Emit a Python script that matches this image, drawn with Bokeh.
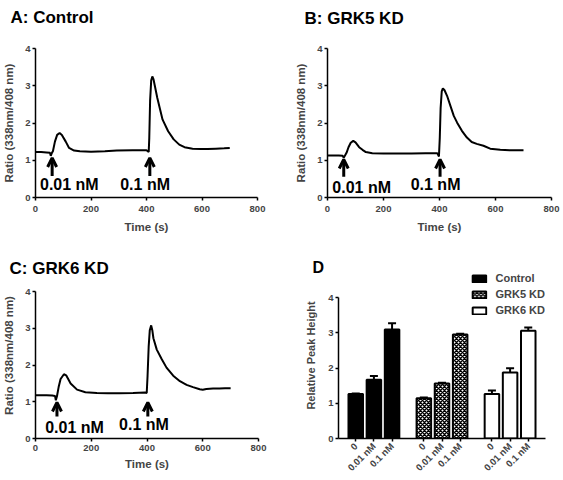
from bokeh.plotting import figure
from bokeh.models import (Range1d, FixedTicker, Arrow, OpenHead, Whisker, TeeHead,
                          ColumnDataSource, Label)
from bokeh.layouts import column, row
from bokeh.core.properties import value
from bokeh.embed import file_html
from bokeh.resources import INLINE

FONT = "Liberation Sans"

# ---------------- data ----------------
x_ticks = [0, 200, 400, 600, 800]
y_ticks = [0, 1, 2, 3, 4]

time_A = [0, 20, 40, 52, 55, 58, 63, 70, 78, 87, 95, 109, 121, 139, 160, 200, 250, 293, 350, 400,
          408, 410, 413, 417, 421, 425, 430, 439, 449, 458, 478, 498, 518, 537, 566, 596, 620, 650, 680, 700]
ratio_A = [1.22, 1.22, 1.21, 1.2, 1.12, 1.18, 1.25, 1.5, 1.68, 1.73, 1.68, 1.5, 1.33, 1.26, 1.24, 1.23, 1.24, 1.26, 1.27, 1.27,
           1.22, 1.6, 2.6, 3.15, 3.25, 3.18, 3.0, 2.67, 2.36, 2.09, 1.78, 1.56, 1.42, 1.35, 1.31, 1.3, 1.3, 1.31, 1.32, 1.33]

time_B = [0, 20, 40, 54, 58, 62, 68, 75, 83, 92, 100, 113, 125, 137, 160, 200, 250, 300, 350, 392,
          398, 401, 404, 408, 412, 418, 427, 439, 451, 463, 480, 498, 515, 533, 557, 581, 617, 650, 680, 700]
ratio_B = [1.13, 1.13, 1.13, 1.12, 1.07, 1.12, 1.2, 1.35, 1.47, 1.52, 1.48, 1.35, 1.28, 1.22, 1.19, 1.18, 1.18, 1.18, 1.19, 1.19,
           1.1, 1.6, 2.4, 2.85, 2.93, 2.88, 2.73, 2.46, 2.19, 2.01, 1.79, 1.61, 1.49, 1.44, 1.39, 1.31, 1.28, 1.27, 1.27, 1.27]

time_C = [0, 20, 40, 60, 70, 73, 77, 83, 90, 102, 110, 126, 149, 179, 220, 260, 300, 350, 393, 399,
          402, 406, 410, 415, 419, 423, 435, 453, 470, 494, 518, 542, 565, 589, 600, 613, 637, 660, 680, 700]
ratio_C = [1.18, 1.18, 1.18, 1.17, 1.16, 1.04, 1.15, 1.4, 1.62, 1.75, 1.72, 1.5, 1.33, 1.26, 1.24, 1.23, 1.23, 1.24, 1.25, 1.24,
           1.7, 2.5, 2.95, 3.08, 2.95, 2.73, 2.42, 2.16, 1.93, 1.71, 1.56, 1.46, 1.4, 1.34, 1.33, 1.35, 1.36, 1.36, 1.37, 1.37]

dose_text = ["0.01 nM", "0.1 nM"]
arrow_t_A = [60, 412]
arrow_t_B = [58, 402]
arrow_t_C = [77, 403]
arrow_tip = [1.06, 1.02, 0.98]
arrow_base = [0.58, 0.56, 0.6]
label_t_A = [122, 395]
label_t_B = [122, 386]
label_t_C = [140, 389]
label_y_A = [0.36, 0.36]
label_y_B = [0.28, 0.36]
label_y_C = [0.31, 0.37]

panel_titles = ["A: Control", "B: GRK5 KD", "C: GRK6 KD", "D"]

groups = ["Control", "GRK5 KD", "GRK6 KD"]
doses = ["0", "0.01 nM", "0.1 nM"]
peak_control = [1.26, 1.67, 3.09]
err_control = [0.02, 0.1, 0.18]
peak_grk5 = [1.14, 1.56, 2.95]
err_grk5 = [0.02, 0.02, 0.02]
peak_grk6 = [1.26, 1.87, 3.06]
err_grk6 = [0.1, 0.12, 0.09]


def style(p, tick_size="9.5px", label_size="11.5px"):
    for ax in p.axis:
        ax.axis_line_width = 1.5
        ax.major_tick_line_width = 1.5
        ax.major_tick_out = 3
        ax.major_tick_in = 0
        ax.minor_tick_line_color = None
        ax.major_label_text_font = FONT
        ax.major_label_text_font_style = "bold"
        ax.major_label_text_font_size = tick_size
        ax.axis_label_text_font = FONT
        ax.axis_label_text_font_style = "bold"
        ax.axis_label_text_font_size = label_size
    p.yaxis.major_label_standoff = 2
    p.yaxis.axis_label_standoff = 7
    p.yaxis.bounds = (y_ticks[0], y_ticks[-1])
    p.grid.visible = False
    p.outline_line_color = None


def add_title(p, text, dx, dy, size="17px"):
    # panel heading, placed in the space above the plot frame
    p.add_layout(Label(x=dx, y=dy, x_units="screen", y_units="screen", text=text,
                       text_font=FONT, text_font_style="bold", text_font_size=size,
                       text_color="black", text_align="left", text_baseline="alphabetic"), "above")


def trace_panel(title, t, r, arrow_t, tip, base, lab_t, lab_y, width, height, mb,
                title_pos, xl_standoff, xa_standoff, y_top):
    p = figure(width=width, height=height, output_backend="svg", toolbar_location=None,
               x_range=Range1d(0, 800), y_range=Range1d(0, y_top),
               x_axis_label="Time (s)", y_axis_label="Ratio (338nm/408 nm)",
               min_border_left=mb[0], min_border_right=mb[1], min_border_top=mb[2], min_border_bottom=mb[3])
    p.xaxis.ticker = FixedTicker(ticks=x_ticks)
    p.yaxis.ticker = FixedTicker(ticks=y_ticks)
    p.line(t, r, line_width=2, line_color="black")
    asrc = ColumnDataSource(dict(x=arrow_t, y0=[base] * len(arrow_t), y1=[tip] * len(arrow_t)))
    p.add_layout(Arrow(source=asrc, x_start="x", y_start="y0", x_end="x", y_end="y1",
                       line_width=3, line_color="black",
                       end=OpenHead(size=9, line_width=3, line_color="black")))
    p.text(x=lab_t, y=lab_y, text=dose_text, text_font=value(FONT), text_font_style="bold",
           text_font_size=value("16px"), text_align="center", text_baseline="middle", text_color="black")
    style(p)
    p.xaxis.major_label_standoff = xl_standoff
    p.xaxis.axis_label_standoff = xa_standoff
    add_title(p, title, *title_pos)
    return p


pA = trace_panel(panel_titles[0], time_A, ratio_A, arrow_t_A, arrow_tip[0], arrow_base[0],
                 label_t_A, label_y_A, 270, 240, (33, 13, 48, 43), (-25, 31), 5, 6, 4)
pB = trace_panel(panel_titles[1], time_B, ratio_B, arrow_t_B, arrow_tip[1], arrow_base[1],
                 label_t_B, label_y_B, 293, 240, (57, 12, 48, 43), (-23, 30), 5, 6, 4)
# lower row: plot frames of C and D share top/bottom, so C's frame reaches above its axis end
pC = trace_panel(panel_titles[2], time_C, ratio_C, arrow_t_C, arrow_tip[2], arrow_base[2],
                 label_t_C, label_y_C, 270, 240, (33, 12, 32, 42), (-26, 4), 3, 4, 4.52)

# ---------------- panel D ----------------
bar_step = 4          # distance between neighbouring bars (axis units)
group_gap = 3         # extra room between groups
bar_pos = [[gi * (len(doses) * bar_step + group_gap) + di * bar_step for di in range(len(doses))]
           for gi in range(len(groups))]
all_pos = [x for g in bar_pos for x in g]
edge = 0.95 * bar_step

pD = figure(width=293, height=240, output_backend="svg", toolbar_location=None,
            x_range=Range1d(all_pos[0] - edge, all_pos[-1] + edge),
            y_range=Range1d(0, 4.71), y_axis_label="Relative Peak Height",
            min_border_left=68, min_border_right=18, min_border_top=32, min_border_bottom=42)

bar_specs = [
    (peak_control, err_control, dict(fill_color="black")),
    (peak_grk5, err_grk5, dict(fill_color="white", hatch_pattern="diagonal_cross",
                               hatch_color="black", hatch_scale=4, hatch_weight=1.5)),
    (peak_grk6, err_grk6, dict(fill_color="white")),
]
for gi, (peaks, errs, kw) in enumerate(bar_specs):
    src = ColumnDataSource(dict(x=bar_pos[gi], top=peaks, upper=[a + b for a, b in zip(peaks, errs)]))
    pD.vbar(x="x", top="top", width=0.8 * bar_step, source=src, line_color="black", line_width=2,
            legend_label=groups[gi], **kw)
    pD.add_layout(Whisker(source=src, base="x", lower="top", upper="upper", line_width=2,
                          line_color="black", lower_head=None,
                          upper_head=TeeHead(size=8, line_width=2, line_color="black")))

pD.yaxis.ticker = FixedTicker(ticks=y_ticks)
pD.xaxis.ticker = FixedTicker(ticks=all_pos)
pD.xaxis.major_label_overrides = {x: doses[i % len(doses)] for i, x in enumerate(all_pos)}
style(pD, tick_size="9.5px", label_size="11px")
pD.xaxis.major_label_orientation = 0.785
pD.xaxis.major_label_standoff = 3
pD.yaxis.axis_label_standoff = 8
add_title(pD, panel_titles[3], -26, 5, size="16px")
lg = pD.legend[0]
lg.location = "top_right"
lg.border_line_color = None
lg.background_fill_alpha = 0
lg.label_text_font = FONT
lg.label_text_font_style = "bold"
lg.label_text_font_size = "11px"
lg.glyph_width = 17
lg.glyph_height = 9
lg.label_height = 12
lg.label_standoff = 8
lg.spacing = 4
lg.padding = 0
lg.margin = 0

layout = column(row(pA, pB), row(pC, pD))
open("out.html", "w").write(file_html(layout, INLINE))
